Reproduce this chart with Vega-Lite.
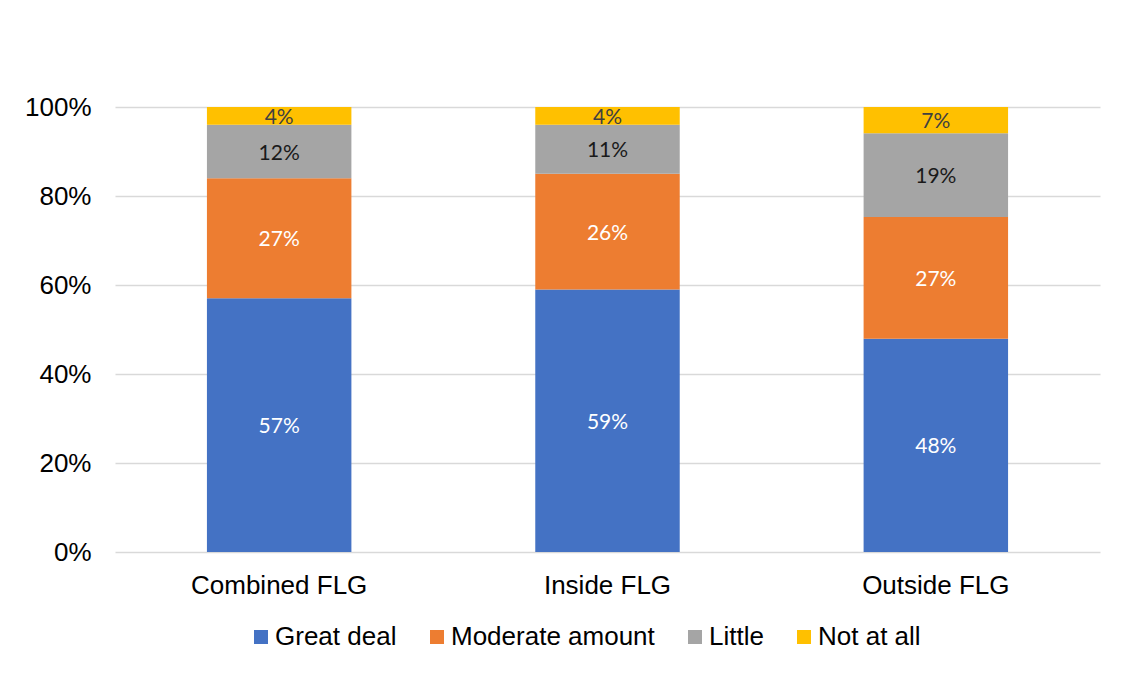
{
  "$schema": "https://vega.github.io/schema/vega-lite/v6.json",
  "width": 985,
  "height": 445,
  "autosize": "none",
  "padding": {"left": 115, "top": 107, "right": 45, "bottom": 121},
  "background": "white",
  "config": {"view": {"stroke": null}, "font": "Liberation Sans"},
  "data": {"values": [
    {"group": "Combined FLG", "level": "Great deal", "rank": 1, "value": 0.57, "label": "57%"},
    {"group": "Combined FLG", "level": "Moderate amount", "rank": 2, "value": 0.27, "label": "27%"},
    {"group": "Combined FLG", "level": "Little", "rank": 3, "value": 0.12, "label": "12%"},
    {"group": "Combined FLG", "level": "Not at all", "rank": 4, "value": 0.04, "label": "4%"},
    {"group": "Inside FLG", "level": "Great deal", "rank": 1, "value": 0.59, "label": "59%"},
    {"group": "Inside FLG", "level": "Moderate amount", "rank": 2, "value": 0.26, "label": "26%"},
    {"group": "Inside FLG", "level": "Little", "rank": 3, "value": 0.11, "label": "11%"},
    {"group": "Inside FLG", "level": "Not at all", "rank": 4, "value": 0.04, "label": "4%"},
    {"group": "Outside FLG", "level": "Great deal", "rank": 1, "value": 0.479, "label": "48%"},
    {"group": "Outside FLG", "level": "Moderate amount", "rank": 2, "value": 0.274, "label": "27%"},
    {"group": "Outside FLG", "level": "Little", "rank": 3, "value": 0.188, "label": "19%"},
    {"group": "Outside FLG", "level": "Not at all", "rank": 4, "value": 0.059, "label": "7%"}
  ]},
  "transform": [
    {"stack": "value", "groupby": ["group"], "sort": [{"field": "rank", "order": "ascending"}], "as": ["v0", "v1"]}
  ],
  "encoding": {
    "x": {
      "field": "group", "type": "nominal", "sort": null,
      "scale": {"paddingInner": 0.56, "paddingOuter": 0.28},
      "axis": {"title": null, "labelAngle": 0, "domain": false, "ticks": false, "labelFontSize": 26, "labelColor": "#000", "labelPadding": 20, "labelFont": "Liberation Sans"}
    },
    "y": {
      "field": "v0", "type": "quantitative",
      "scale": {"domain": [0, 1], "nice": false},
      "axis": {"title": null, "values": [0, 0.2, 0.4, 0.6, 0.8, 1], "format": ".0%", "domain": false, "ticks": false, "labelFontSize": 26, "labelColor": "#000", "labelPadding": 24, "gridColor": "#d9d9d9", "gridWidth": 1.5, "labelFont": "Liberation Sans"}
    }
  },
  "layer": [
    {
      "mark": {"type": "bar"},
      "encoding": {
        "y2": {"field": "v1"},
        "color": {
          "field": "level", "type": "nominal",
          "scale": {"domain": ["Great deal", "Moderate amount", "Little", "Not at all"], "range": ["#4472C4", "#ED7D31", "#A5A5A5", "#FFC000"]},
          "legend": {
            "title": null, "orient": "none", "direction": "horizontal", "legendX": 133, "legendY": 517,
            "symbolType": "square", "symbolSize": 196, "symbolStrokeWidth": 0, "symbolOpacity": 1,
            "labelFontSize": 26, "labelColor": "#000", "labelOffset": 1, "columnPadding": 27, "labelFont": "Liberation Sans", "labelLimit": 400
          }
        }
      }
    },
    {
      "mark": {"type": "text", "font": "Lato", "fontSize": 21, "baseline": "middle", "dy": {"expr": "(scale('y', datum.v1) - scale('y', datum.v0)) / 2 + 2"}},
      "encoding": {
        "text": {"field": "label"},
        "color": {
          "field": "level", "type": "nominal",
          "scale": {"domain": ["Great deal", "Moderate amount", "Little", "Not at all"], "range": ["#ffffff", "#ffffff", "#1a1a1a", "#404040"]},
          "legend": null
        }
      }
    }
  ],
  "resolve": {"scale": {"color": "independent"}}
}
